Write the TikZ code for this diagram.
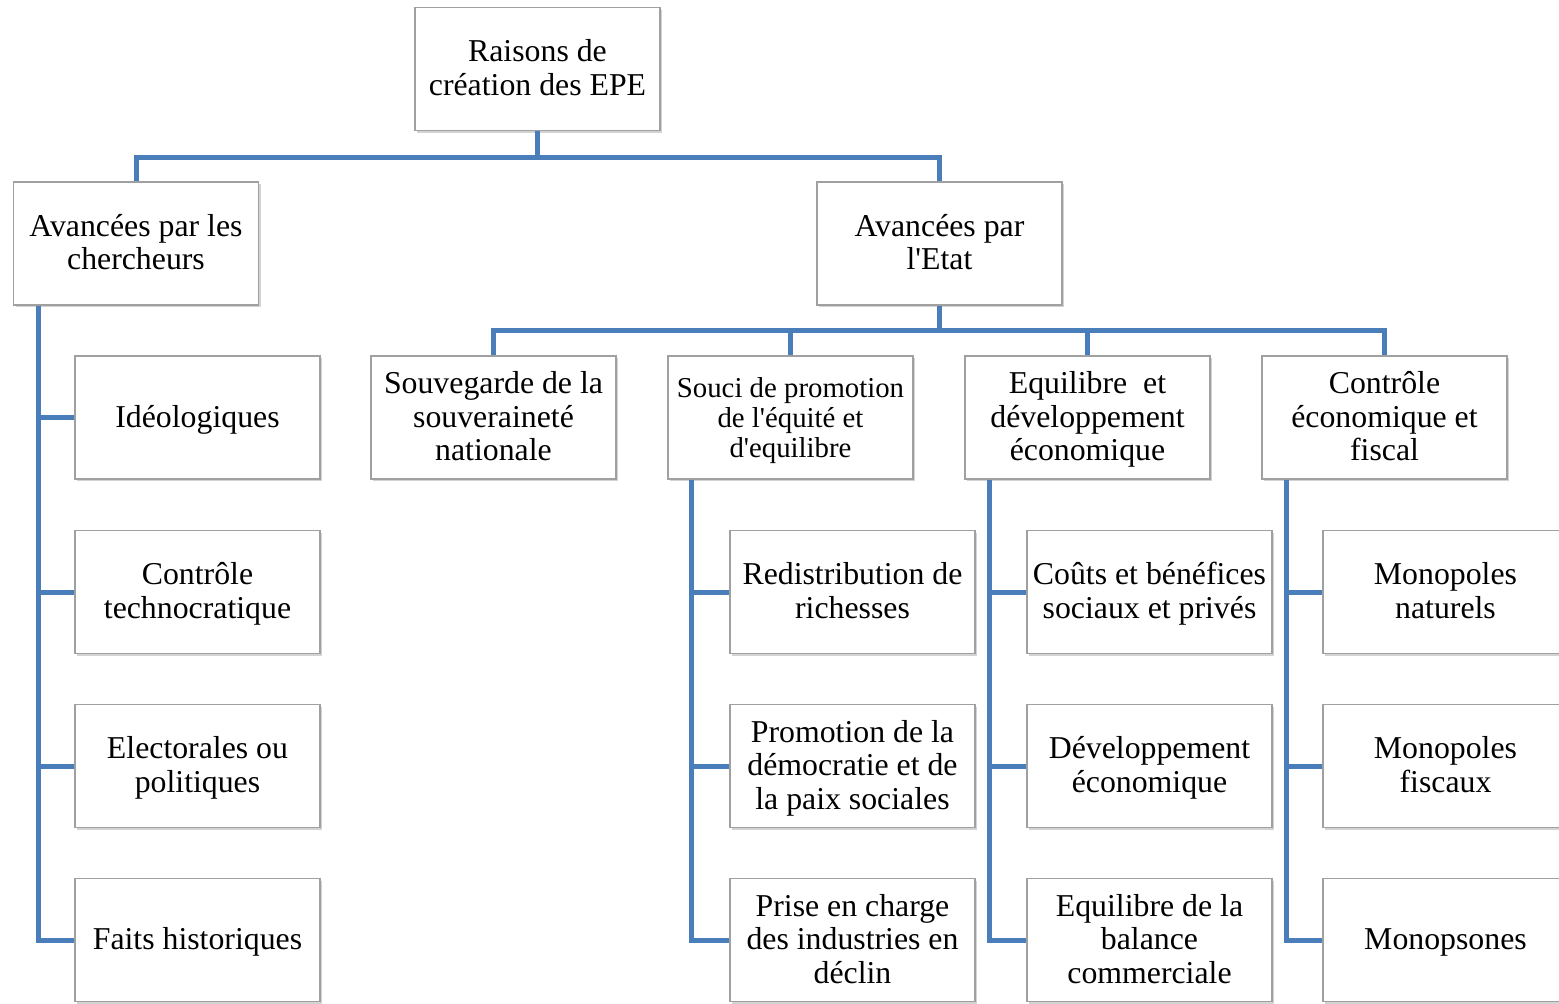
\documentclass[tikz,border=0pt]{standalone}
\usepackage{fontspec}
\setmainfont{Liberation Serif}[Ligatures=TeXOff]
\usetikzlibrary{shadows}
\definecolor{linkblue}{HTML}{4A7EBB}
\definecolor{boxgray}{HTML}{A0A0A0}
% invisible rules: fixed height for the first line, fixed depth for the last one
\newcommand\topstrut{\rule{0pt}{13.5pt}}
\newcommand\botstrut{\rule[-4pt]{0pt}{4pt}}
\newcommand\tb[1]{\topstrut#1\botstrut}
\begin{document}
\begin{tikzpicture}[x=0.5pt,y=-0.5pt,
  box/.style={draw=boxgray, line width=0.7pt, fill=white,
    minimum width=122.5pt, minimum height=61.5pt, inner sep=0pt,
    align=center, font=\fontsize{15.9}{16.75}\selectfont,
    drop shadow={shadow xshift=1pt, shadow yshift=-1.2pt, opacity=0.35, fill=black!50}},
  smallbox/.style={box, font=\fontsize{14.4}{15}\selectfont},
  link/.style={draw=linkblue, line width=2.5pt}]
\useasboundingbox (0,0) rectangle (1559,1003);

% root and first level
\node[box] (root) at (537.5,69) {\tb{Raisons de\\création des EPE}};
\node[box] (res)  at (136,243.5) {\tb{Avancées par les\\chercheurs}};
\node[box] (etat) at (939.5,243.5) {\tb{Avancées par\\l'Etat}};

% reasons put forward by researchers
\node[box] (ideo)   at (197.5,417.5) {\tb{Idéologiques}};
\node[box] (techno) at (197.5,592)   {\tb{Contrôle\\technocratique}};
\node[box] (elect)  at (197.5,766)   {\tb{Electorales ou\\politiques}};
\node[box] (hist)   at (197.5,940)   {\tb{Faits historiques}};

% reasons put forward by the State
\node[box]      (souv) at (493.5,417.5)  {\tb{Souvegarde de la\\souveraineté\\nationale}};
\node[smallbox] (souci) at (790.5,417.5) {\tb{Souci de promotion\\de l'équité et\\d'equilibre}};
\node[box]      (equi) at (1087.5,417.5) {\tb{Equilibre\ \ et\\développement\\économique}};
\node[box]      (ctrl) at (1384.5,417.5) {\tb{Contrôle\\économique et\\fiscal}};

\node[box] (redis) at (852.5,592) {\tb{Redistribution de\\richesses}};
\node[box] (democ) at (852.5,766) {\tb{Promotion de la\\démocratie et de\\la paix sociales}};
\node[box] (declin) at (852.5,940) {\tb{Prise en charge\\des industries en\\déclin}};

\node[box] (couts) at (1149.5,592) {\tb{Coûts et bénéfices\\sociaux et privés}};
\node[box] (devel) at (1149.5,766) {\tb{Développement\\économique}};
\node[box] (balan) at (1149.5,940) {\tb{Equilibre\ de la\\balance\\commerciale}};

\node[box] (mnat) at (1445.5,592) {\tb{Monopoles\\naturels}};
\node[box] (mfis) at (1445.5,766) {\tb{Monopoles\\fiscaux}};
\node[box] (mops) at (1445.5,940) {\tb{Monopsones}};

% connectors
\coordinate (bus1) at (537.5,157);
\draw[link] (root.south) -- (bus1);
\draw[link] (res.north) |- (bus1) -| (etat.north);

\coordinate (bus2) at (939.5,330);
\draw[link] (etat.south) -- (bus2);
\draw[link] (souv.north) |- (bus2) -| (ctrl.north);
\draw[link] (souci.north) -- (souci.north |- bus2);
\draw[link] (equi.north) -- (equi.north |- bus2);

\coordinate (spineA) at ([xshift=13pt]res.south west);
\draw[link] (spineA) |- (hist.west);
\foreach \n in {ideo,techno,elect}
  \draw[link] (\n.west) -- (\n.west -| spineA);

\coordinate (spineB) at ([xshift=12pt]souci.south west);
\draw[link] (spineB) |- (declin.west);
\foreach \n in {redis,democ}
  \draw[link] (\n.west) -- (\n.west -| spineB);

\coordinate (spineC) at ([xshift=12.5pt]equi.south west);
\draw[link] (spineC) |- (balan.west);
\foreach \n in {couts,devel}
  \draw[link] (\n.west) -- (\n.west -| spineC);

\coordinate (spineD) at ([xshift=12.5pt]ctrl.south west);
\draw[link] (spineD) |- (mops.west);
\foreach \n in {mnat,mfis}
  \draw[link] (\n.west) -- (\n.west -| spineD);
\end{tikzpicture}
\end{document}
